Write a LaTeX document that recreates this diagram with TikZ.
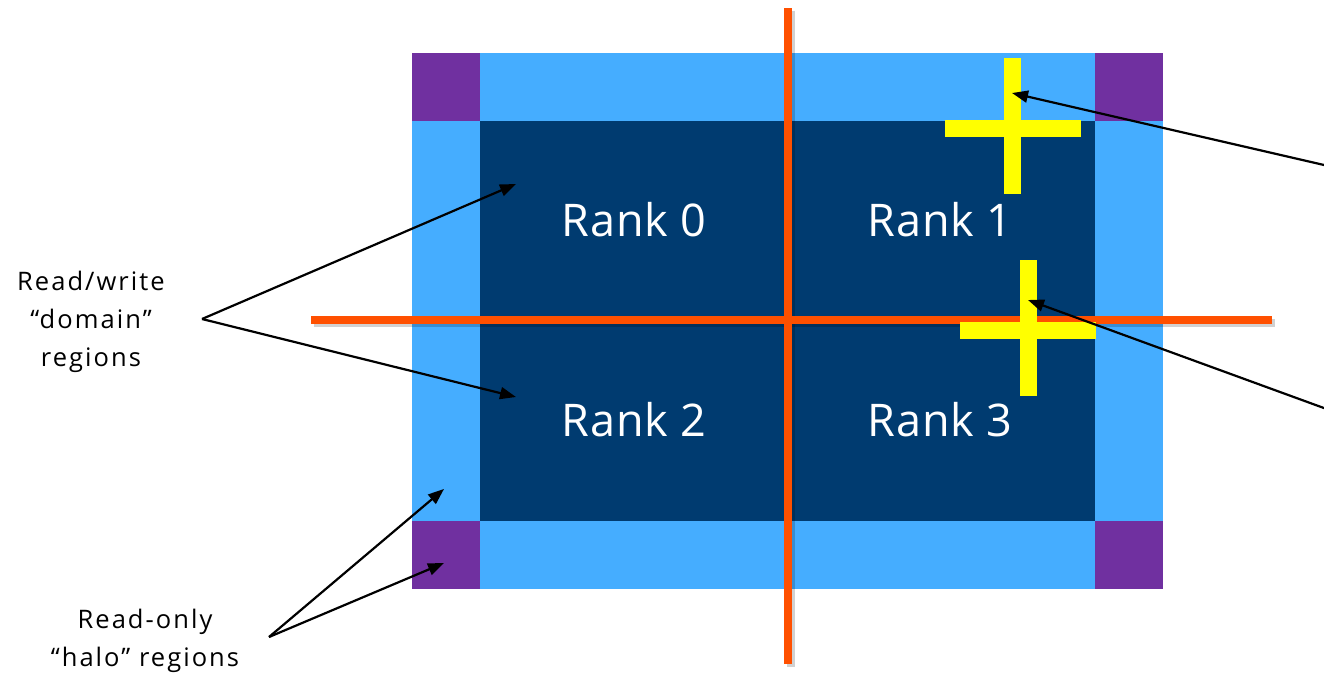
\documentclass[tikz,border=0pt]{standalone}
\usepackage{fontspec}
\setmainfont{Open Sans}
\newfontfamily\notefont[LetterSpace=8]{Open Sans}
\newfontfamily\rankfont[LetterSpace=2]{Open Sans}
\usetikzlibrary{arrows.meta}

\definecolor{halocol}{HTML}{45ADFF}
\definecolor{domaincol}{HTML}{003B70}
\definecolor{cornercol}{HTML}{7030A0}
\definecolor{cutcol}{HTML}{FF5000}
\definecolor{crosscol}{HTML}{FFFF00}

\tikzset{
  ptr/.style={draw=black, line width=2.2pt, -{Triangle[length=16pt,width=12pt]}},
  cutline/.style={draw=cutcol, line width=8pt},
  cutshadow/.style={draw=black, opacity=0.18, line width=8pt},
  rank/.style={text=white, font=\rankfont\fontsize{45}{52}\selectfont, anchor=base, inner sep=0pt},
  note/.style={text=black, align=center, inner sep=0pt,
               font=\notefont\fontsize{25.5}{38}\selectfont},
}

\begin{document}
\begin{tikzpicture}[x=1pt, y=-1pt]
\useasboundingbox (0,0) rectangle (1324,672);
\clip (0,0) rectangle (1324,672);

% halo frame around the whole grid
\fill[halocol] (412,53) rectangle (1163,589);
% corner halo cells
\fill[cornercol] (412,53) rectangle (480,121);
\fill[cornercol] (1095,53) rectangle (1163,121);
\fill[cornercol] (412,521) rectangle (480,589);
\fill[cornercol] (1095,521) rectangle (1163,589);
% read/write domain
\fill[domaincol] (480,121) rectangle (1095,521);

% decomposition cuts (with a faint drop shadow)
\draw[cutshadow] (313.5,322.5) -- (1274.5,322.5);
\draw[cutshadow] (790.5,10.5) -- (790.5,666.5);
\draw[cutline] (311,320) -- (1272,320);
\draw[cutline] (788,8) -- (788,664);

% stencil crosses
\fill[crosscol] (1004,58) rectangle (1021,194);
\fill[crosscol] (945,120) rectangle (1081,137);
\fill[crosscol] (1020,260) rectangle (1037,396);
\fill[crosscol] (960,322) rectangle (1096,339);

% rank labels
\node[rank] (r0) at (634,236) {Rank 0};
\node[rank] (r1) at (940,236) {Rank 1};
\node[rank] (r2) at (634,436) {Rank 2};
\node[rank] (r3) at (940,436) {Rank 3};

% side notes
\node[note] (rw) at (91,322) {Read/write\\“domain”\\regions};
\node[note] (ro) at (145,641) {Read-only\\“halo” regions};

% pointer ends
\coordinate (rwapex) at (202,319);
\coordinate (rwtop) at (516,184);
\coordinate (rwbot) at (516,397);
\coordinate (roapex) at (269,637);
\coordinate (roedge) at (444,489);
\coordinate (rocorner) at (444,563);
\coordinate (stA) at (1012,93);
\coordinate (stAfar) at (1360,173.3);
\coordinate (stB) at (1028,300);
\coordinate (stBfar) at (1360,421.2);

\draw[ptr] (rwapex) -- (rwtop);
\draw[ptr] (rwapex) -- (rwbot);
\draw[ptr] (roapex) -- (roedge);
\draw[ptr] (roapex) -- (rocorner);
\draw[ptr] (stAfar) -- (stA);
\draw[ptr] (stBfar) -- (stB);
\end{tikzpicture}
\end{document}
